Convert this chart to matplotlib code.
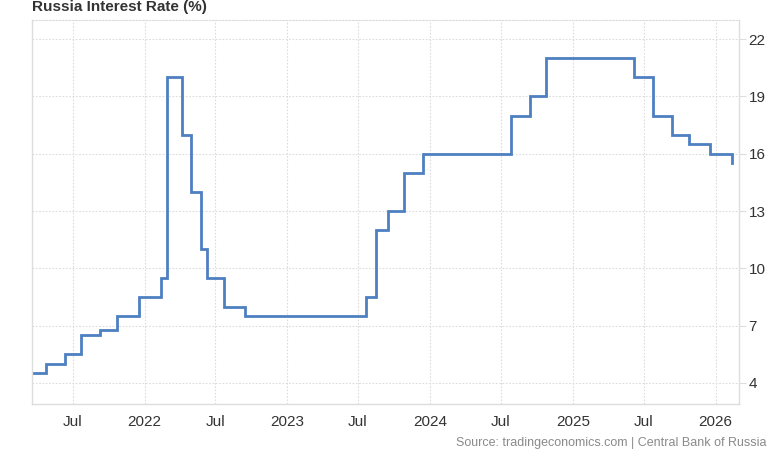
import matplotlib
matplotlib.use("Agg")
import matplotlib.pyplot as plt
import datetime as dt

plt.rcParams['font.family'] = ['Liberation Sans', 'DejaVu Sans']

dates = ["2021-03-22", "2021-04-23", "2021-06-11", "2021-07-23", "2021-09-10",
         "2021-10-22", "2021-12-17", "2022-02-11", "2022-02-28", "2022-04-08",
         "2022-04-29", "2022-05-26", "2022-06-10", "2022-07-22", "2022-09-16",
         "2023-07-21", "2023-08-15", "2023-09-15", "2023-10-27", "2023-12-15",
         "2024-07-26", "2024-09-13", "2024-10-25", "2025-06-06", "2025-07-25",
         "2025-09-12", "2025-10-24", "2025-12-19", "2026-02-13"]
rates = [4.5, 5.0, 5.5, 6.5, 6.75,
         7.5, 8.5, 9.5, 20.0, 17.0,
         14.0, 11.0, 9.5, 8.0, 7.5,
         8.5, 12.0, 13.0, 15.0, 16.0,
         18.0, 19.0, 21.0, 20.0, 18.0,
         17.0, 16.5, 16.0, 15.5]
y_ticks = [4, 7, 10, 13, 16, 19, 22]
title = "Russia Interest Rate (%)"
source = "Source: tradingeconomics.com | Central Bank of Russia"

x = [dt.datetime.strptime(d, "%Y-%m-%d") for d in dates]

fig = plt.figure(figsize=(7.8, 4.7), dpi=100)
ax = fig.add_axes([32/780, 1-404/470, (739-32)/780, (404-20)/470])

ax.step(x, rates, where='post', color='#4d80c1', lw=2.0, solid_joinstyle='miter')

ax.set_xlim(dt.datetime(2021, 3, 19), dt.datetime(2026, 3, 2))
ax.set_ylim(2.9, 23.0)

ax.yaxis.tick_right()
ax.set_yticks(y_ticks)
ax.set_yticklabels([str(v) for v in y_ticks])

locs = [dt.datetime(2021, 7, 1), dt.datetime(2022, 1, 1), dt.datetime(2022, 7, 1),
        dt.datetime(2023, 1, 1), dt.datetime(2023, 7, 1), dt.datetime(2024, 1, 1),
        dt.datetime(2024, 7, 1), dt.datetime(2025, 1, 1), dt.datetime(2025, 7, 1),
        dt.datetime(2026, 1, 1)]
ax.set_xticks(locs)
ax.set_xticklabels([("Jul" if d.month == 7 else str(d.year)) for d in locs])

ax.grid(True, color='#dcdcdc', linestyle=(0, (1.5, 1.5)), linewidth=0.8)
ax.tick_params(axis='x', length=0, pad=8, labelsize=11, labelcolor='#333333')
ax.tick_params(axis='y', length=5, width=0.8, color='#dddddd', pad=2,
               labelsize=11, labelcolor='#333333')

for s in ['left', 'right', 'bottom']:
    ax.spines[s].set_color('#dddddd')
    ax.spines[s].set_linewidth(1.0)
ax.spines['top'].set_color('#dcdcdc')
ax.spines['top'].set_linestyle((0, (1.5, 1.5)))
ax.spines['top'].set_linewidth(0.8)

fig.text(32/780, 1-11/470, title, fontsize=11, fontweight='bold', color='#333333',
         ha='left', va='baseline')
fig.text(766/780, 1-443/470, source, fontsize=9, color='#8a8a8a',
         ha='right', va='center')

fig.savefig("out.png", dpi=100)
